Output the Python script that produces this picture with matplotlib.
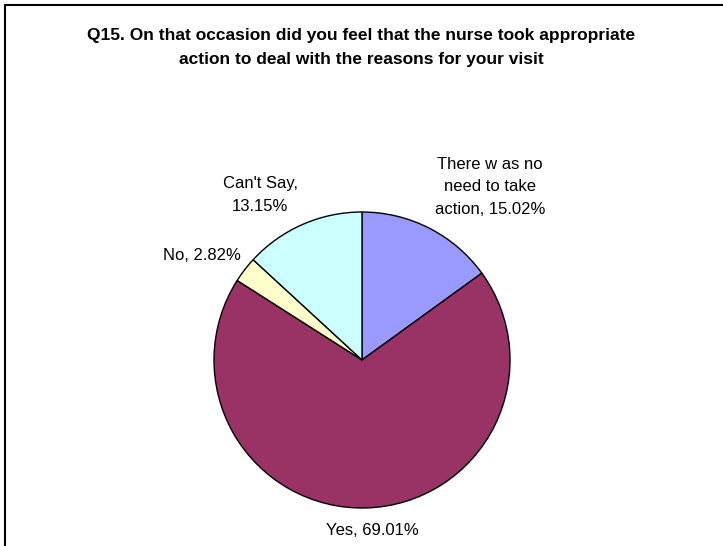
import matplotlib.pyplot as plt
from matplotlib.patches import Rectangle

plt.rcParams['font.family'] = ['Liberation Sans', 'DejaVu Sans']

# answers and shares, clockwise from 12 o'clock
categories = ["There w as no\nneed to take\naction", "Yes", "No", "Can't Say"]
values = [15.02, 69.01, 2.82, 13.15]
colors = ['#9999FF', '#993366', '#FFFFCC', '#CCFFFF']
title = ("Q15. On that occasion did you feel that the nurse took appropriate\n"
         "action to deal with the reasons for your visit")

W, H = 723, 546
fig = plt.figure(figsize=(W / 100, H / 100), dpi=100)
ax = fig.add_axes([0, 0, 1, 1])

# pie centre and radius in pixels, one data unit = one radius
cx, cy, r = 362, 360, 148

wedges, _ = ax.pie(values, colors=colors, startangle=90, counterclock=False,
                   radius=1.0, center=(0, 0), frame=True,
                   wedgeprops=dict(edgecolor='black', linewidth=1.0))
ax.set_xlim(-cx / r, (W - cx) / r)
ax.set_ylim(-(H - cy) / r, cy / r)
ax.set_aspect('equal')
ax.axis('off')

# data labels, placed relative to the centre (in radii)
label_pos = [(0.865, 1.169), (0.07, -1.149), (-1.081, 0.703), (-0.689, 1.115)]
label_text = [f"{categories[0]}, {values[0]:.2f}%",
              f"{categories[1]}, {values[1]:.2f}%",
              f"{categories[2]}, {values[2]:.2f}%",
              f"{categories[3]},\n{values[3]:.2f}%"]
for txt, (lx, ly) in zip(label_text, label_pos):
    ax.text(lx, ly, txt, ha='center', va='center', fontsize=12,
            linespacing=1.65)

fig.text(0.5, 1 - 47.5 / H, title, ha='center', va='center', fontsize=12.5,
         fontweight='bold', linespacing=1.75)

# chart border
fig.patches.append(Rectangle((5 / W, -0.01), 1.0, 1 - 5 / H + 0.01,
                             transform=fig.transFigure, fill=False,
                             edgecolor='black', linewidth=1.5))

fig.savefig('out.png', dpi=100)
